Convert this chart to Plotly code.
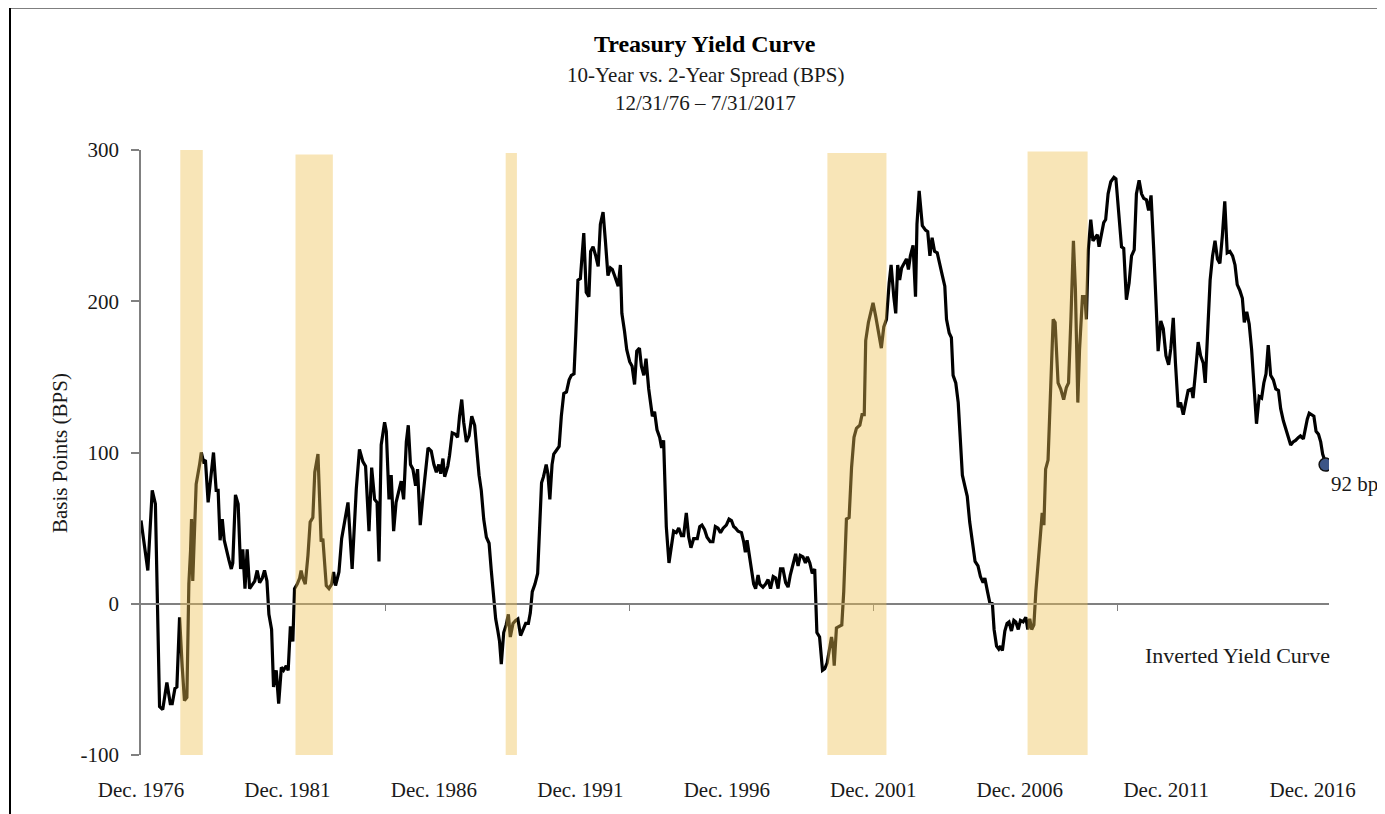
import plotly.graph_objects as go

# ---------------- data (months since Dec. 1976, spread in bps) ----------------
month = [
    0, 2.8, 4.6, 5.9, 7.6, 8.9, 10.6, 12.0, 12.8, 13.9, 14.7, 15.8,
    16.9, 17.8, 18.8, 19.6, 20.3, 20.7, 21.2, 21.9, 22.6, 24.0, 24.7, 25.6,
    26.4, 27.5, 28.5, 29.7, 30.8, 31.6, 32.4, 33.3, 34.1, 34.9, 36.0, 37.0,
    37.6, 38.7, 39.8, 40.8, 41.7, 42.6, 43.5, 44.5, 45.5, 46.6, 47.6, 48.6,
    49.7, 50.6, 51.6, 52.4, 53.5, 54.3, 55.4, 56.4, 57.5, 58.4, 59.5, 60.3,
    61.2, 62.2, 62.9, 64.0, 65.0, 65.6, 66.3, 67.3, 68.4, 69.3, 70.4, 71.2,
    72.5, 73.2, 73.8, 74.5, 75.2, 75.9, 77.0, 78.1, 78.9, 79.7, 81.1, 82.2,
    83.4, 84.8, 86.5, 88.2, 89.5, 90.9, 92.0, 93.4, 94.5, 95.7, 96.7, 97.5,
    98.4, 99.8, 100.5, 101.6, 102.5, 103.5, 104.5, 106.6, 107.6, 108.7, 109.5, 110.4,
    111.4, 112.5, 113.3, 114.4, 115.5, 116.6, 117.6, 118.9, 120.0, 121.0, 122.0, 122.8,
    123.7, 124.4, 125.7, 126.4, 127.5, 128.8, 129.7, 130.5, 131.4, 132.2, 133.3, 134.4,
    135.5, 136.7, 137.6, 138.5, 139.4, 140.4, 141.5, 142.6, 143.5, 144.5, 145.3, 146.2,
    146.9, 147.6, 148.6, 149.6, 150.5, 151.3, 152.4, 153.5, 154.4, 155.5, 156.5, 157.6,
    158.7, 159.5, 160.3, 161.4, 162.5, 163.3, 164.1, 164.9, 166.0, 166.7, 167.5, 168.4,
    169.1, 170.0, 171.3, 172.2, 173.2, 174.3, 175.4, 176.3, 177.4, 178.1, 179.0, 180.0,
    180.7, 181.4, 182.4, 183.5, 184.2, 185.2, 186.3, 187.3, 188.2, 189.3, 190.3, 191.3,
    192.3, 193.1, 194.0, 195.0, 195.5, 196.4, 197.0, 198.1, 199.0, 200.2, 201.2, 202.2,
    203.1, 204.2, 205.0, 206.0, 206.9, 208.0, 209.5, 210.4, 211.4, 212.5, 213.3, 214.1,
    215.2, 216.3, 217.4, 218.2, 219.3, 220.3, 221.4, 222.3, 223.4, 224.4, 225.3, 226.4,
    227.9, 228.9, 229.8, 230.9, 231.9, 233.2, 234.3, 235.3, 236.4, 237.4, 238.5, 239.8,
    240.9, 241.9, 242.8, 243.6, 244.6, 246.0, 246.9, 247.6, 248.3, 249.1, 250.1, 251.0,
    251.8, 252.8, 253.5, 254.8, 255.9, 256.9, 257.9, 259.0, 260.0, 261.0, 262.0, 263.0,
    264.1, 265.1, 266.0, 267.1, 268.2, 269.2, 270.1, 271.2, 272.2, 273.0, 274.0, 275.0,
    276.0, 276.9, 278.0, 279.2, 280.1, 281.1, 282.1, 282.9, 283.5, 284.0, 284.9, 286.3,
    287.1, 287.9, 289.0, 290.1, 291.1, 292.1, 293.1, 294.5, 295.4, 296.3, 296.9, 298.0,
    299.0, 299.9, 301.0, 302.4, 303.3, 304.3, 305.4, 306.5, 307.3, 308.4, 309.2, 310.0,
    310.8, 311.6, 312.8, 313.6, 314.4, 315.2, 316.3, 317.3, 317.9, 318.8, 320.1, 321.4,
    322.3, 323.2, 324.1, 325.1, 326.2, 327.3, 328.3, 329.3, 330.0, 331.1, 332.0, 332.7,
    333.8, 334.8, 335.7, 336.5, 337.5, 338.5, 339.5, 340.6, 341.7, 342.9, 343.9, 345.0,
    345.7, 346.8, 347.7, 348.8, 349.5, 350.5, 351.4, 352.1, 352.9, 353.9, 354.8, 355.6,
    356.6, 357.6, 358.4, 359.4, 360.3, 361.4, 362.5, 363.3, 364.1, 364.9, 365.8, 366.6,
    367.6, 368.5, 369.2, 369.9, 370.6, 371.6, 372.3, 373.0, 373.7, 374.5, 375.1, 375.7,
    376.8, 378.0, 379.1, 380.0, 381.0, 382.0, 382.8, 383.8, 384.5, 385.7, 386.7, 387.3,
    388.1, 389.1, 390.0, 391.0, 391.8, 392.5, 393.5, 394.4, 395.2, 396.2, 397.3, 398.6,
    399.4, 400.4, 401.7, 402.6, 403.7, 404.8, 405.8, 406.9, 407.8, 408.9, 409.9, 410.8,
    411.9, 412.8, 413.8, 414.9, 415.8, 416.7, 417.8, 418.8, 419.9, 421.0, 421.9, 422.9,
    423.8, 424.9, 425.9, 427.0, 428.1, 429.0, 430.4, 431.0, 432.0, 433.1, 434.1, 435.2,
    436.0, 436.8, 438.0, 439.0, 440.0, 441.0, 442.0, 443.0, 444.0, 445.0, 446.1, 447.2,
    448.2, 449.1, 450.2, 451.2, 452.0, 453.0, 454.0, 455.0, 456.0, 457.0, 458.1, 459.1,
    460.0, 460.9, 461.8, 462.8, 463.9, 464.9, 466.0, 466.9, 468.0, 469.0, 470.1, 471.0,
    472.0, 473.0, 474.2, 475.0, 476.2, 476.9, 477.8, 478.6, 479.6, 480.5, 481.4, 482.4,
    483.3, 484.1, 484.9, 485.3,
]
spread_bps = [
    55, 22, 75, 66, -68, -70, -52, -66, -66, -56, -55, -9,
    -42, -64, -62, 13, 35, 56, 15, 52, 79, 92, 100, 94,
    95, 67, 83, 100, 75, 75, 42, 56, 42, 36, 29, 23,
    27, 72, 66, 23, 36, 10, 36, 10, 12, 15, 22, 14,
    17, 22, 15, -7, -17, -55, -44, -66, -42, -44, -41, -44,
    -15, -25, 10, 13, 17, 22, 17, 13, 32, 54, 57, 87,
    99, 65, 41, 43, 29, 12, 10, 13, 21, 12, 21, 43,
    54, 67, 23, 76, 102, 94, 91, 48, 90, 69, 67, 28,
    105, 120, 114, 69, 85, 48, 67, 81, 69, 107, 118, 92,
    89, 78, 89, 52, 71, 89, 103, 101, 92, 87, 92, 86,
    96, 84, 91, 98, 113, 112, 110, 124, 135, 120, 107, 111,
    124, 118, 98, 85, 75, 56, 44, 40, 22, 6, -10, -18,
    -25, -40, -19, -14, -7, -22, -13, -11, -10, -21, -17, -13,
    -13, -6, 8, 13, 20, 45, 80, 84, 92, 86, 69, 92,
    99, 101, 104, 124, 139, 140, 148, 151, 152, 177, 214, 215,
    233, 245, 206, 203, 233, 236, 230, 223, 251, 259, 239, 217,
    222, 221, 217, 211, 210, 224, 192, 180, 168, 160, 157, 145,
    167, 169, 157, 151, 162, 142, 124, 127, 115, 110, 103, 108,
    51, 27, 40, 48, 47, 50, 45, 45, 60, 44, 37, 43,
    43, 51, 52, 49, 44, 41, 41, 51, 50, 47, 50, 52,
    56, 55, 51, 50, 48, 47, 41, 34, 42, 34, 22, 13,
    10, 19, 13, 11, 13, 16, 10, 18, 17, 10, 23, 23,
    14, 11, 19, 26, 33, 25, 32, 31, 27, 31, 27, 20,
    23, -19, -22, -44, -43, -39, -31, -22, -28, -41, -16, -15,
    -14, 8, 56, 57, 90, 110, 116, 118, 125, 125, 174, 186,
    194, 199, 190, 178, 169, 183, 188, 212, 224, 203, 192, 224,
    214, 222, 226, 228, 221, 230, 237, 203, 251, 273, 250, 247,
    246, 230, 242, 233, 232, 225, 217, 210, 188, 179, 176, 151,
    146, 133, 109, 85, 78, 71, 54, 39, 28, 25, 18, 14,
    17, 8, 1, 0, -17, -28, -30, -28, -31, -18, -13, -12,
    -18, -11, -12, -17, -11, -12, -9, -17, -10, -17, -14, 8,
    30, 50, 60, 52, 89, 95, 122, 155, 188, 186, 170, 146,
    142, 135, 143, 146, 190, 240, 208, 133, 168, 203, 203, 188,
    234, 254, 240, 242, 244, 236, 245, 252, 254, 271, 279, 282,
    281, 263, 236, 235, 201, 212, 230, 234, 271, 280, 271, 268,
    267, 260, 270, 234, 201, 167, 187, 182, 164, 158, 169, 189,
    159, 130, 133, 125, 134, 141, 142, 136, 153, 173, 164, 159,
    146, 177, 214, 230, 240, 228, 225, 243, 266, 232, 233, 230,
    224, 211, 207, 202, 186, 193, 185, 168, 146, 119, 137, 136,
    146, 152, 171, 151, 148, 142, 141, 129, 121, 115, 109, 105,
    107, 108, 110, 111, 109, 115, 122, 126, 125, 124, 114, 112,
    107, 99, 95, 92,
]

x_tick_months = [0, 60, 120, 180, 240, 300, 360, 420, 480]
x_tick_labels = ["Dec. 1976", "Dec. 1981", "Dec. 1986", "Dec. 1991", "Dec. 1996",
                 "Dec. 2001", "Dec. 2006", "Dec. 2011", "Dec. 2016"]
axis_mark_months = [100, 200, 300, 400]
y_ticks = [-100, 0, 100, 200, 300]
y_tick_labels = ["-100", "0", "100", "200", "300"]

shade_start = [16.1, 63.3, 149.4, 281.2, 363.2]
shade_end = [25.3, 78.6, 154.0, 305.4, 387.8]
shade_top = [300, 297, 298, 298, 299]
shade_bottom = [-100, -102, -102, -102, -101]

# ---------------- layout geometry ----------------
# the page body adds an 8px offset; the figure is sized to fill the rest
OFF = 8
W, H = 1385 - OFF, 814 - OFF
L, R, T, B = 141 - OFF, 56, 150 - OFF, 57
PW, PH = W - L - R, H - T - B
FONT = "Liberation Serif, Times New Roman, serif"
GRAY = "#808080"
TXT = "#1a1a1a"


def px(xp):
    """page x pixel -> paper fraction"""
    return (xp - OFF - L) / PW


def py(yp):
    """page y pixel -> paper fraction"""
    return (H - B - (yp - OFF)) / PH


fig = go.Figure()

fig.add_trace(go.Scatter(
    x=month, y=spread_bps, mode="lines",
    line=dict(color="black", width=3.2),
    hoverinfo="skip", showlegend=False,
))
fig.add_trace(go.Scatter(
    x=[month[-1]], y=[spread_bps[-1]], mode="markers",
    marker=dict(size=13, color="#3c5587", line=dict(color="#111111", width=1.5)),
    hoverinfo="skip", showlegend=False,
))
# carrier for the zero-line axis
fig.add_trace(go.Scatter(x=[month[0]], y=[None], xaxis="x2", yaxis="y",
                         mode="lines", showlegend=False, hoverinfo="skip"))

for s, e, t, b in zip(shade_start, shade_end, shade_top, shade_bottom):
    fig.add_shape(type="rect", xref="x", yref="y", x0=s, x1=e, y0=b, y1=t,
                  fillcolor="rgba(238,194,84,0.42)", line=dict(width=0), layer="above")

# outer border
fig.add_shape(type="rect", xref="paper", yref="paper",
              x0=px(10), x1=px(1400), y0=py(830), y1=py(7),
              line=dict(color="black", width=2), fillcolor="rgba(0,0,0,0)")

xr = [0, 486.7]
fig.update_layout(
    width=W, height=H,
    margin=dict(l=L, r=R, t=T, b=B, pad=0),
    paper_bgcolor="white", plot_bgcolor="white",
    font=dict(family=FONT, size=21, color=TXT),
    xaxis=dict(
        range=xr, showgrid=False, zeroline=False, showline=False,
        tickvals=x_tick_months, ticktext=x_tick_labels, ticks="",
        ticklabelstandoff=20, tickfont=dict(size=21, family=FONT, color=TXT),
    ),
    xaxis2=dict(
        range=xr, overlaying="x", anchor="free", position=0.25, side="bottom",
        showgrid=False, zeroline=False, showline=True, linecolor=GRAY, linewidth=2,
        tickvals=axis_mark_months, ticks="outside", ticklen=6, tickwidth=1,
        tickcolor=GRAY, showticklabels=False,
    ),
    yaxis=dict(
        range=[-100, 300], domain=[0, 1], showgrid=False, zeroline=False,
        showline=True, linecolor=GRAY, linewidth=1.5,
        tickvals=y_ticks, ticktext=y_tick_labels, ticks="outside", ticklen=8,
        tickwidth=1.5, tickcolor=GRAY,
        ticklabelstandoff=8, tickfont=dict(size=21, family=FONT, color=TXT),
    ),
    annotations=[
        dict(text="<b>Treasury Yield Curve</b>", xref="paper", yref="paper",
             x=px(705), y=py(44), xanchor="center", yanchor="middle",
             showarrow=False, font=dict(size=24, family=FONT, color="black")),
        dict(text="10-Year vs. 2-Year Spread (BPS)", xref="paper", yref="paper",
             x=px(705), y=py(75), xanchor="center", yanchor="middle",
             showarrow=False, font=dict(size=21, family=FONT, color=TXT)),
        dict(text="12/31/76 \u2013 7/31/2017", xref="paper", yref="paper",
             x=px(705), y=py(103), xanchor="center", yanchor="middle",
             showarrow=False, font=dict(size=21, family=FONT, color=TXT)),
        dict(text="Basis Points (BPS)", xref="paper", yref="paper",
             x=px(60), y=py(454), xanchor="center", yanchor="middle", textangle=-90,
             showarrow=False, font=dict(size=21, family=FONT, color=TXT)),
        dict(text="Inverted Yield Curve", xref="paper", yref="paper",
             x=px(1237), y=py(657), xanchor="center", yanchor="middle",
             showarrow=False, font=dict(size=22, family=FONT, color=TXT)),
        dict(text=f"{spread_bps[-1]} bps", xref="x", yref="y",
             x=month[-1], y=spread_bps[-1], xanchor="left", yanchor="middle",
             xshift=3, yshift=-19, showarrow=False,
             font=dict(size=21, family=FONT, color=TXT)),
    ],
)

fig.write_html("out.html")
